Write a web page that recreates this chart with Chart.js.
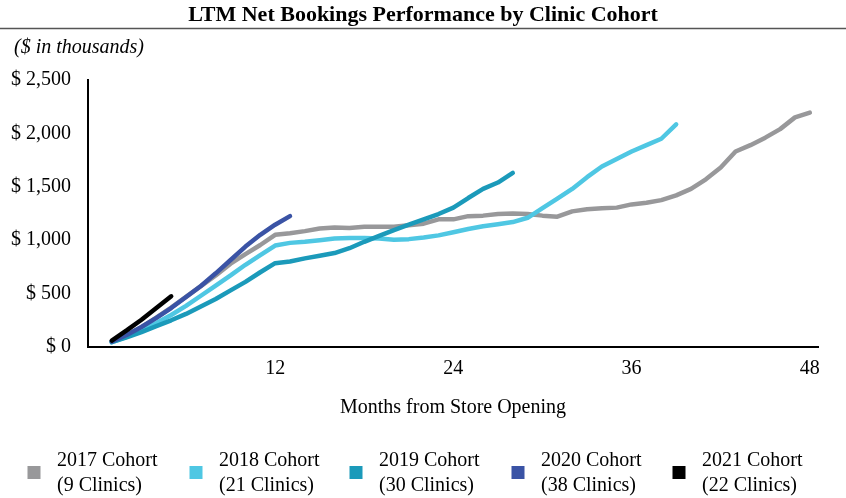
<!DOCTYPE html>
<html>
<head>
<meta charset="utf-8">
<script src="https://cdn.jsdelivr.net/npm/chart.js@4.4.1/dist/chart.umd.min.js"></script>
<style>
  body { margin: 0; background: #fff; }
</style>
</head>
<body>
<canvas id="myChart" width="846" height="498"></canvas>
<script>
const months = [1, 2, 3, 4, 5, 6, 7, 8, 9, 10, 11, 12, 13, 14, 15, 16, 17, 18, 19, 20, 21, 22, 23, 24,
    25, 26, 27, 28, 29, 30, 31, 32, 33, 34, 35, 36, 37, 38, 39, 40, 41, 42, 43, 44, 45, 46, 47, 48];

const cohort2017 = [50, 110, 185, 275, 370, 470, 570, 670, 780, 870, 955, 1050,
    1065, 1085, 1110, 1120, 1115, 1125, 1125, 1125, 1140, 1155, 1195, 1195, 1225, 1230,
    1245, 1250, 1245, 1230, 1220, 1270, 1290, 1300, 1305, 1335, 1350, 1375, 1420, 1480,
    1570, 1680, 1830, 1890, 1960, 2040, 2150, 2195];
const cohort2018 = [45, 95, 155, 225, 300, 385, 480, 575, 670, 770, 860, 950,
    975, 985, 1000, 1015, 1020, 1020, 1015, 1005, 1010, 1025, 1045, 1075, 1105, 1130, 1150, 1170,
    1210, 1300, 1390, 1480, 1590, 1690, 1760, 1830, 1890, 1950, 2085];
const cohort2019 = [45, 90, 140, 195, 250, 310, 380, 450, 530, 610, 700, 785,
    800, 830, 855, 880, 925, 985, 1040, 1095, 1145, 1195, 1245, 1305, 1395, 1480, 1540, 1630];
const cohort2020 = [50, 112, 187, 272, 365, 468, 571, 690, 815, 940, 1050, 1145, 1225];
const cohort2021 = [60, 155, 255, 365, 475];

const seriesNames = ['2017 Cohort', '2018 Cohort', '2019 Cohort', '2020 Cohort', '2021 Cohort'];
const clinicCounts = ['(9 Clinics)', '(21 Clinics)', '(30 Clinics)', '(38 Clinics)', '(22 Clinics)'];
const colors = ['#98989a', '#4fc7e3', '#1b9aba', '#3a53a5', '#000000'];
const xTicks = [12, 24, 36, 48];

const allSeries = [cohort2017, cohort2018, cohort2019, cohort2020, cohort2021];

const serif = "'Liberation Serif', 'Times New Roman', serif";

const extras = {
    id: 'extras',
    afterDraw(chart) {
        const c = chart.ctx;
        c.save();
        c.fillStyle = '#000';
        c.textBaseline = 'middle';

        // title + rule
        c.font = 'bold 22px ' + serif;
        c.textAlign = 'center';
        c.fillText('LTM Net Bookings Performance by Clinic Cohort', 423, 15);
        c.strokeStyle = '#555';
        c.lineWidth = 1.5;
        c.beginPath();
        c.moveTo(0, 28.5);
        c.lineTo(846, 28.5);
        c.stroke();

        c.font = 'italic 20px ' + serif;
        c.textAlign = 'left';
        c.fillText('($ in thousands)', 14, 48);

        // x axis title
        c.font = '20px ' + serif;
        c.textAlign = 'center';
        const area = chart.chartArea;
        c.fillText('Months from Store Opening', (area.left + area.right) / 2, 408);

        // legend
        const boxX = [34, 196, 356, 518, 679];
        c.textAlign = 'left';
        seriesNames.forEach((name, i) => {
            c.fillStyle = colors[i];
            c.fillRect(boxX[i] - 6.5, 466, 13, 13);
            c.fillStyle = '#000';
            c.fillText(name, boxX[i] + 23, 461);
            c.fillText(clinicCounts[i], boxX[i] + 23, 486);
        });
        c.restore();
    }
};

const ctx = document.getElementById('myChart');

const myChart = new Chart(ctx, { // eslint-disable-line
    type: 'line',
    data: {
        datasets: allSeries.map((values, i) => ({
            label: seriesNames[i],
            data: values.map((v, j) => ({ x: months[j], y: v })),
            borderColor: colors[i],
            backgroundColor: colors[i],
            borderWidth: 4.5,
            borderCapStyle: 'round',
            borderJoinStyle: 'round',
            pointRadius: 0,
            tension: 0,
            order: allSeries.length - i
        }))
    },
    options: {
        responsive: false,
        animation: false,
        layout: { padding: { top: 80, right: 28, left: 0, bottom: 0 } },
        plugins: {
            legend: { display: false },
            tooltip: { enabled: false }
        },
        scales: {
            x: {
                type: 'linear',
                min: -0.6,
                max: 48.55,
                grid: { display: false, drawTicks: false },
                border: { color: '#000', width: 2 },
                afterBuildTicks: scale => {
                    scale.ticks = xTicks.map(v => ({ value: v }));
                },
                afterFit: scale => { scale.height = 151; },
                ticks: {
                    color: '#000',
                    padding: 10,
                    maxRotation: 0,
                    autoSkip: false,
                    font: { family: serif, size: 20 },
                    callback: v => String(v)
                }
            },
            y: {
                min: 0,
                max: 2500,
                grid: { display: false, drawTicks: false },
                border: { color: '#000', width: 2 },
                afterFit: scale => { scale.width = 88; },
                ticks: {
                    stepSize: 500,
                    color: '#000',
                    padding: 17,
                    font: { family: serif, size: 20 },
                    callback: v => '$ ' + v.toLocaleString('en-US')
                }
            }
        }
    },
    plugins: [extras]
});
</script>
</body>
</html>
